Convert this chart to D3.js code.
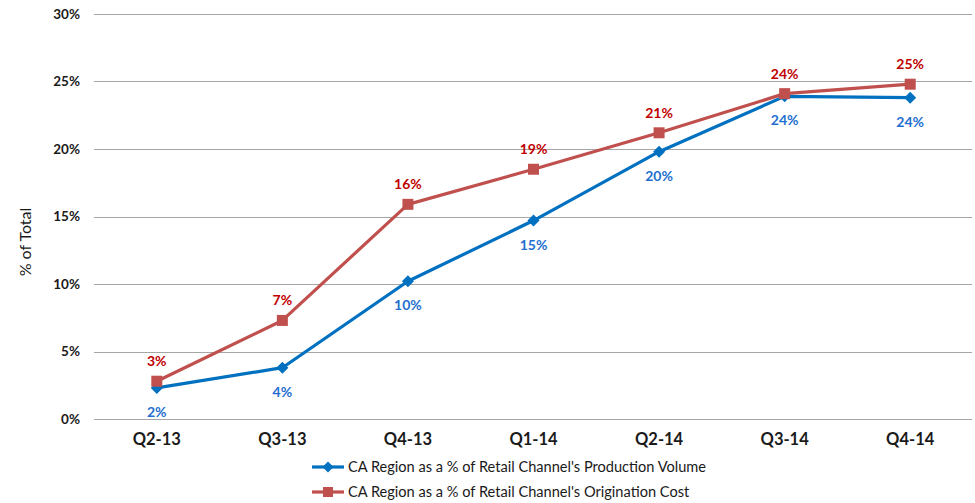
<!DOCTYPE html>
<html>
<head>
<meta charset="utf-8">
<script src="https://cdn.jsdelivr.net/npm/d3@7"></script>
<style>
  html, body { margin: 0; padding: 0; background: #fff; }
  svg { display: block; font-family: Lato, "Open Sans", sans-serif; }
</style>
</head>
<body>
<svg id="chart" width="975" height="503"></svg>
<script>
// Quarterly share of the CA region in the retail channel
const quarters = ["Q2-13", "Q3-13", "Q4-13", "Q1-14", "Q2-14", "Q3-14", "Q4-14"];
const productionVolume = [2.3, 3.8, 10.2, 14.7, 19.8, 23.9, 23.8];
const originationCost = [2.8, 7.3, 15.9, 18.5, 21.2, 24.1, 24.8];
const volumeLabels = ["2%", "4%", "10%", "15%", "20%", "24%", "24%"];
const costLabels = ["3%", "7%", "16%", "19%", "21%", "24%", "25%"];
const yTicks = [0, 5, 10, 15, 20, 25, 30];
const seriesNames = [
  "CA Region as a % of Retail Channel's Production Volume",
  "CA Region as a % of Retail Channel's Origination Cost"
];

const svg = d3.select("#chart");
const margin = { left: 94, right: 2, top: 14, bottom: 84 };
const W = 975, H = 503;

const x = d3.scaleBand().domain(quarters).range([margin.left, W - margin.right]);
const y = d3.scaleLinear().domain([0, 30]).range([H - margin.bottom, margin.top]);

// Horizontal gridlines
svg.append("g")
  .selectAll("line")
  .data(yTicks)
  .join("line")
  .attr("x1", margin.left)
  .attr("x2", W - 3)
  .attr("y1", d => Math.round(y(d)) + 0.5)
  .attr("y2", d => Math.round(y(d)) + 0.5)
  .attr("stroke", "#a6a6a6")
  .attr("stroke-width", 1);

// Y axis labels
const yAxis = svg.append("g")
  .attr("transform", `translate(${margin.left - 14},0)`)
  .call(d3.axisLeft(y).tickValues(yTicks).tickFormat(d => d + "%").tickSize(0).tickPadding(0));
yAxis.select(".domain").remove();
yAxis.selectAll("text")
  .attr("font-family", "Lato, sans-serif")
  .attr("font-size", 13.5)
  .attr("font-weight", "bold")
  .attr("fill", "#1a1a1a");

// Y axis title
svg.append("text")
  .attr("transform", "translate(31,242) rotate(-90)")
  .attr("text-anchor", "middle")
  .attr("font-size", 16)
  .attr("fill", "#1a1a1a")
  .text("% of Total");

// X axis labels
const xAxis = svg.append("g")
  .attr("transform", `translate(0,${y(0) + 14})`)
  .call(d3.axisBottom(x).tickSize(0).tickPadding(0));
xAxis.select(".domain").remove();
xAxis.selectAll("text")
  .attr("font-family", "Lato, sans-serif")
  .attr("font-size", 16.5)
  .attr("font-weight", "bold")
  .attr("fill", "#1a1a1a");

const cx = d => x(d) + x.bandwidth() / 2;

const diamond = r => `M0,${-r}L${r},0L0,${r}L${-r},0Z`;
const square = r => `M${-r},${-r}H${r}V${r}H${-r}Z`;

const series = [
  { values: originationCost, labels: costLabels, color: "#c0504d", text: "#c00000", marker: "square", dy: -15 },
  { values: productionVolume, labels: volumeLabels, color: "#0070c0", text: "#1f6fd0", marker: "diamond", dy: 29 }
];

const line = d3.line().x(d => d[0]).y(d => d[1]);

// Draw production volume first so origination cost sits on top
[series[1], series[0]].forEach(s => {
  const pts = quarters.map((q, i) => [cx(q), y(s.values[i])]);
  svg.append("path")
    .attr("d", line(pts))
    .attr("fill", "none")
    .attr("stroke", s.color)
    .attr("stroke-width", 3.2)
    .attr("stroke-linejoin", "round");
  svg.append("g")
    .selectAll("path")
    .data(pts)
    .join("path")
    .attr("transform", d => `translate(${d[0]},${d[1]})`)
    .attr("d", s.marker === "square" ? square(5.5) : diamond(6))
    .attr("fill", s.color);
});

// Data labels
series.forEach(s => {
  svg.append("g")
    .selectAll("text")
    .data(quarters)
    .join("text")
    .attr("x", d => cx(d))
    .attr("y", (d, i) => y(s.values[i]) + s.dy)
    .attr("text-anchor", "middle")
    .attr("font-size", 14)
    .attr("font-weight", "bold")
    .attr("fill", s.text)
    .text((d, i) => s.labels[i]);
});

// Legend
const legend = svg.append("g").attr("transform", "translate(312,467)");
[series[1], series[0]].forEach((s, i) => {
  const g = legend.append("g").attr("transform", `translate(0,${i * 25})`);
  g.append("line")
    .attr("x1", 0).attr("x2", 32)
    .attr("stroke", s.color).attr("stroke-width", 3.2);
  g.append("path")
    .attr("transform", "translate(16,0)")
    .attr("d", s.marker === "square" ? square(5) : diamond(5.5))
    .attr("fill", s.color);
  g.append("text")
    .attr("x", 36)
    .attr("dy", "0.35em")
    .attr("font-size", 14.6)
    .attr("fill", "#1a1a1a")
    .text(seriesNames[i]);
});
</script>
</body>
</html>
